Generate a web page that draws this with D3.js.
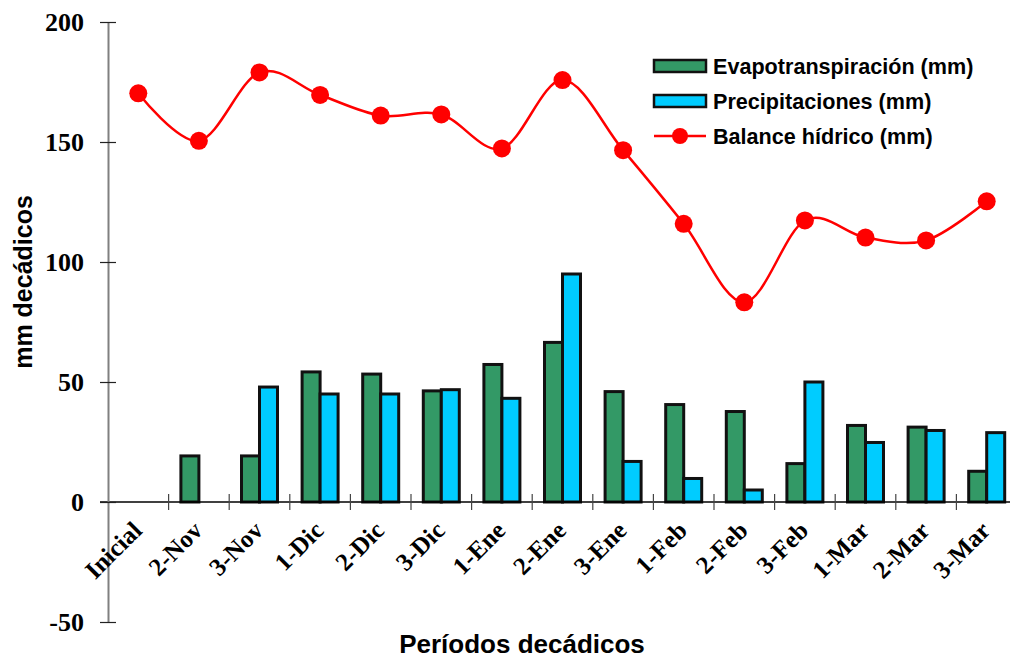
<!DOCTYPE html>
<html>
<head>
<meta charset="utf-8">
<script src="https://cdn.jsdelivr.net/npm/d3@7"></script>
<style>
  body { margin: 0; background: #fff; }
  svg { display: block; }
</style>
</head>
<body>
<script>
(function(){

//chart data
var categories = ["Inicial", "2-Nov", "3-Nov", "1-Dic", "2-Dic", "3-Dic", "1-Ene", "2-Ene", "3-Ene", "1-Feb", "2-Feb", "3-Feb", "1-Mar", "2-Mar", "3-Mar"];
var evapo = [0, 19.2, 19.2, 54.2, 53.3, 46.3, 57.3, 66.5, 46, 40.6, 37.7, 16, 31.9, 31.2, 12.8];
var precip = [0, 0, 47.9, 45, 45, 46.8, 43.2, 95, 16.9, 9.8, 5, 50, 24.8, 29.8, 28.9];
var balance = [170.3, 150.5, 179, 169.6, 161, 161.5, 147.3, 175.8, 146.6, 115.9, 83.2, 117.3, 110.2, 109, 125.3];
var yTicks = [-50, 0, 50, 100, 150, 200];
var legendLabels = ["Evapotranspiración (mm)", "Precipitaciones (mm)", "Balance hídrico (mm)"];

var width = 1010, height = 658;
var left = 108, right = 1017, top = 22, bottom = 622;

var svg = d3.select("body").append("svg")
    .attr("width", width)
    .attr("height", height);

//scales
var x = d3.scaleBand()
    .domain(categories)
    .range([left, right]);

var y = d3.scaleLinear()
    .domain([-50, 200])
    .range([bottom, top]);

var barW = 18;

//bars
var groups = svg.selectAll(".cat")
    .data(categories)
    .enter()
    .append("g")
    .attr("class", "cat");

groups.append("rect")
    .filter(function(d, i){ return evapo[i] > 0; })
    .attr("x", function(d){ return x(d) + x.bandwidth() / 2 - barW; })
    .attr("y", function(d){ return y(evapo[categories.indexOf(d)]); })
    .attr("width", barW)
    .attr("height", function(d){ return y(0) - y(evapo[categories.indexOf(d)]); })
    .style("fill", "#339966")
    .style("stroke", "#111")
    .style("stroke-width", 3);

groups.append("rect")
    .filter(function(d, i){ return precip[i] > 0; })
    .attr("x", function(d){ return x(d) + x.bandwidth() / 2; })
    .attr("y", function(d){ return y(precip[categories.indexOf(d)]); })
    .attr("width", barW)
    .attr("height", function(d){ return y(0) - y(precip[categories.indexOf(d)]); })
    .style("fill", "#00CCFF")
    .style("stroke", "#111")
    .style("stroke-width", 3);

//x axis line at zero
svg.append("line")
    .attr("x1", left - 8).attr("x2", right)
    .attr("y1", y(0)).attr("y2", y(0))
    .style("stroke", "#000")
    .style("stroke-width", 1.5);

//category tick marks
svg.selectAll(".xtick")
    .data(categories.slice(1))
    .enter()
    .append("line")
    .attr("class", "xtick")
    .attr("x1", function(d){ return x(d); })
    .attr("x2", function(d){ return x(d); })
    .attr("y1", y(0) - 8)
    .attr("y2", y(0) + 8)
    .style("stroke", "#444")
    .style("stroke-width", 1.2);

//y axis
var yAxis = d3.axisLeft(y)
    .tickValues(yTicks)
    .tickSize(0)
    .tickPadding(24)
    .tickFormat(function(d){ return String(d); });

var yg = svg.append("g")
    .attr("transform", "translate(" + left + ",0)")
    .call(yAxis);
yg.select(".domain").style("stroke", "#808080").style("stroke-width", 2);
yg.selectAll(".tick text")
    .style("font-family", "'Liberation Serif', 'Times New Roman', serif")
    .style("font-weight", "bold")
    .style("font-size", "26px")
    .style("fill", "#000");
yg.selectAll(".tick").append("line")
    .attr("x1", -8).attr("x2", 8)
    .style("stroke", "#222")
    .style("stroke-width", 1.2);

//category labels
svg.selectAll(".xlab")
    .data(categories)
    .enter()
    .append("text")
    .attr("class", "xlab")
    .attr("transform", function(d){
        return "translate(" + (x(d) + x.bandwidth() / 2 + 5) + "," + (y(0) + 30) + ") rotate(-45)";
    })
    .attr("text-anchor", "end")
    .style("font-family", "'Liberation Serif', 'Times New Roman', serif")
    .style("font-weight", "bold")
    .style("font-size", "25px")
    .text(function(d){ return d; });

//balance line
var line = d3.line()
    .x(function(d, i){ return x(categories[i]) + x.bandwidth() / 2; })
    .y(function(d){ return y(d); })
    .curve(d3.curveCardinal.tension(0));

svg.append("path")
    .datum(balance)
    .attr("d", line)
    .style("fill", "none")
    .style("stroke", "#FF0000")
    .style("stroke-width", 2.5);

svg.selectAll(".dot")
    .data(balance)
    .enter()
    .append("circle")
    .attr("class", "dot")
    .attr("cx", function(d, i){ return x(categories[i]) + x.bandwidth() / 2; })
    .attr("cy", function(d){ return y(d); })
    .attr("r", 9)
    .style("fill", "#FF0000");

//axis titles
svg.append("text")
    .attr("transform", "translate(32,282) rotate(-90)")
    .attr("text-anchor", "middle")
    .style("font-family", "'Liberation Sans', Arial, sans-serif")
    .style("font-weight", "bold")
    .style("font-size", "25px")
    .text("mm decádicos");

svg.append("text")
    .attr("x", 522)
    .attr("y", 653)
    .attr("text-anchor", "middle")
    .style("font-family", "'Liberation Sans', Arial, sans-serif")
    .style("font-weight", "bold")
    .style("font-size", "26px")
    .text("Períodos decádicos");

//legend
var legend = svg.selectAll(".legend")
    .data(legendLabels)
    .enter()
    .append("g")
    .attr("class", "legend")
    .attr("transform", function(d, i){ return "translate(654," + (66 + i * 35) + ")"; });

legend.filter(function(d, i){ return i < 2; })
    .append("rect")
    .attr("x", 0).attr("y", -6)
    .attr("width", 52).attr("height", 12)
    .style("fill", function(d, i){ return i == 0 ? "#339966" : "#00CCFF"; })
    .style("stroke", "#111")
    .style("stroke-width", 2.5);

var lastLeg = legend.filter(function(d, i){ return i == 2; });
lastLeg.append("line")
    .attr("x1", 0).attr("x2", 52)
    .style("stroke", "#FF0000")
    .style("stroke-width", 2.5);
lastLeg.append("circle")
    .attr("cx", 26).attr("r", 8)
    .style("fill", "#FF0000");

legend.append("text")
    .attr("x", 59)
    .attr("dy", "0.35em")
    .style("font-family", "'Liberation Sans', Arial, sans-serif")
    .style("font-weight", "bold")
    .style("font-size", "21.6px")
    .text(function(d){ return d; });

})();
</script>
</body>
</html>
